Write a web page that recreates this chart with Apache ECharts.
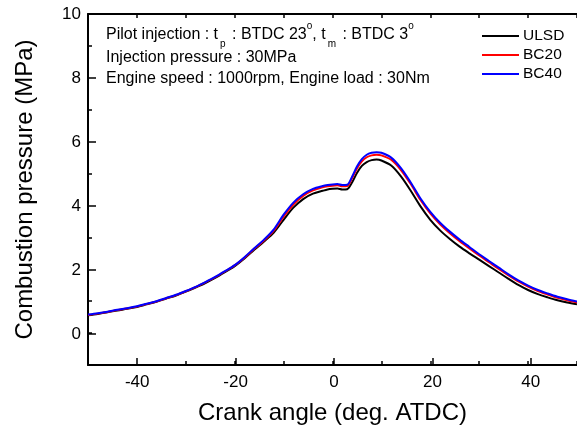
<!DOCTYPE html>
<html>
<head>
<meta charset="utf-8">
<script src="https://cdn.jsdelivr.net/npm/echarts@6/dist/echarts.min.js"></script>
<style>
  html, body { margin: 0; padding: 0; background: #fff; }
  #chart { width: 577px; height: 430px; }
</style>
</head>
<body>
<div id="chart"></div>
<script>
/* Combustion pressure vs crank angle — ULSD / BC20 / BC40 */
const crankAngle = [-50, -48, -46, -44, -42, -40, -38, -36, -34, -32, -30, -28, -26, -24, -22, -20,
  -18, -16, -14, -12, -10, -8, -6, -4,
  -2, -1, 0, 1, 2, 3, 4, 5, 6, 7, 8, 9, 10,
  12, 14, 16, 18, 20, 22, 24, 26, 28, 30, 32, 34, 36, 38, 40, 42, 44, 46, 48, 50];
const ulsd = [0.56, 0.60, 0.65, 0.71, 0.76, 0.82, 0.90, 0.98, 1.08, 1.18, 1.30, 1.43, 1.57, 1.73, 1.91, 2.10,
  2.34, 2.61, 2.87, 3.15, 3.55, 3.93, 4.20, 4.37,
  4.46, 4.50, 4.52, 4.53, 4.50, 4.51, 4.72, 5.02, 5.24, 5.36, 5.42, 5.44, 5.41,
  5.25, 4.91, 4.46, 3.97, 3.55, 3.22, 2.95, 2.71, 2.50, 2.30, 2.10, 1.90, 1.70, 1.51, 1.35, 1.22, 1.12, 1.03, 0.96, 0.90];
const bc20 = [0.57, 0.61, 0.66, 0.72, 0.77, 0.83, 0.91, 0.99, 1.09, 1.19, 1.31, 1.44, 1.59, 1.75, 1.93, 2.12,
  2.36, 2.64, 2.90, 3.21, 3.65, 4.03, 4.30, 4.47,
  4.57, 4.60, 4.62, 4.63, 4.60, 4.61, 4.85, 5.16, 5.38, 5.51, 5.57, 5.59, 5.57,
  5.43, 5.11, 4.67, 4.17, 3.75, 3.41, 3.13, 2.88, 2.65, 2.43, 2.22, 2.01, 1.81, 1.62, 1.46, 1.32, 1.21, 1.11, 1.03, 0.96];
const bc40 = [0.58, 0.62, 0.67, 0.73, 0.78, 0.84, 0.92, 1.00, 1.10, 1.20, 1.32, 1.45, 1.60, 1.76, 1.94, 2.13,
  2.38, 2.66, 2.93, 3.25, 3.71, 4.09, 4.35, 4.52,
  4.61, 4.64, 4.66, 4.67, 4.64, 4.65, 4.90, 5.22, 5.45, 5.59, 5.65, 5.67, 5.65,
  5.50, 5.17, 4.72, 4.22, 3.80, 3.46, 3.18, 2.93, 2.70, 2.47, 2.26, 2.05, 1.84, 1.65, 1.49, 1.35, 1.24, 1.14, 1.06, 0.99];
const seriesNames = ['ULSD', 'BC20', 'BC40'];
const seriesColors = ['#000000', '#ff0000', '#0000ff'];
const seriesValues = [ulsd, bc20, bc40];
const xRange = [-50, 50], xLabelRange = [-40, 40];
const yRange = [-1, 10], yLabelRange = [0, 10];

const FONT = 'Liberation Sans, Arial, sans-serif';
const chart = echarts.init(document.getElementById('chart'));

// main grid spans x -50..50 (right edge runs past the canvas), y -1..10
const G = { left: 88, top: 14, width: 492, height: 352 };
const pxX = G.width / (xRange[1] - xRange[0]);
const pxY = G.height / (yRange[1] - yRange[0]);

const axisLine = { onZero: false, lineStyle: { color: '#000', width: 2 } };
const minorTick = { inside: true, length: 4, lineStyle: { color: '#000', width: 1.5 } };
const majorTick = { inside: true, length: 8, lineStyle: { color: '#000', width: 1.5 } };

chart.setOption({
  animation: false,
  backgroundColor: '#fff',
  grid: [
    G,
    // labelled x ticks (-40..40 every 20)
    { left: G.left + (xLabelRange[0] - xRange[0]) * pxX, top: G.top,
      width: (xLabelRange[1] - xLabelRange[0]) * pxX, height: G.height },
    // labelled y ticks (0..10 every 2)
    { left: G.left, top: G.top + (yRange[1] - yLabelRange[1]) * pxY,
      width: G.width, height: (yLabelRange[1] - yLabelRange[0]) * pxY }
  ],
  xAxis: [
    { type: 'value', gridIndex: 0, min: xRange[0], max: xRange[1], interval: 10,
      name: 'Crank angle (deg. ATDC)', nameLocation: 'middle', nameGap: 36,
      nameTextStyle: { fontFamily: FONT, fontSize: 24, color: '#000' },
      axisLine, axisTick: minorTick, axisLabel: { show: false }, splitLine: { show: false } },
    { type: 'value', gridIndex: 0, position: 'top', min: xRange[0], max: xRange[1], interval: 10,
      axisLine, axisTick: minorTick, axisLabel: { show: false }, splitLine: { show: false } },
    { type: 'value', gridIndex: 1, min: xLabelRange[0], max: xLabelRange[1], interval: 20,
      axisLine: { show: false, onZero: false }, axisTick: majorTick,
      axisLabel: { margin: 8, fontFamily: FONT, fontSize: 17, color: '#000' },
      splitLine: { show: false } },
    { type: 'value', gridIndex: 2, show: false, min: 0, max: 1 }
  ],
  yAxis: [
    { type: 'value', gridIndex: 0, min: yRange[0], max: yRange[1], interval: 1,
      name: 'Combustion pressure (MPa)', nameLocation: 'middle', nameGap: 51,
      nameTextStyle: { fontFamily: FONT, fontSize: 24, color: '#000' },
      axisLine, axisTick: minorTick, axisLabel: { show: false }, splitLine: { show: false } },
    { type: 'value', gridIndex: 1, show: false, min: 0, max: 1 },
    { type: 'value', gridIndex: 2, min: yLabelRange[0], max: yLabelRange[1], interval: 2,
      axisLine: { show: false, onZero: false }, axisTick: majorTick,
      axisLabel: { margin: 7, fontFamily: FONT, fontSize: 17, color: '#000' },
      splitLine: { show: false } }
  ],
  legend: {
    orient: 'vertical', left: 482, top: 28, padding: 0,
    icon: 'rect', itemWidth: 37, itemHeight: 2, itemGap: 3,
    textStyle: { fontFamily: FONT, fontSize: 15.5, lineHeight: 16, color: '#000', padding: [0, 0, 0, -1] },
    data: seriesNames
  },
  graphic: [
    { type: 'text', left: 106, top: 21, style: {
        text: '{a|Pilot injection : t}{s|p}{a| : BTDC 23}{u|o}{a|, t}{s|m}{a| : BTDC 3}{u|o}',
        rich: {
          a: { fontFamily: FONT, fontSize: 16, lineHeight: 28, fill: '#000' },
          s: { fontFamily: FONT, fontSize: 10, lineHeight: 14, verticalAlign: 'bottom', fill: '#000', padding: [0, 2, 0, 2] },
          u: { fontFamily: FONT, fontSize: 10, lineHeight: 23, verticalAlign: 'top', fill: '#000' }
        } } },
    { type: 'text', left: 106, top: 50, style: {
        text: 'Injection pressure : 30MPa', fontFamily: FONT, fontSize: 16, fill: '#000' } },
    { type: 'text', left: 106, top: 71, style: {
        text: 'Engine speed : 1000rpm, Engine load : 30Nm', fontFamily: FONT, fontSize: 16, fill: '#000' } }
  ],
  series: seriesNames.map((name, k) => ({
    name, type: 'line', xAxisIndex: 0, yAxisIndex: 0,
    data: crankAngle.map((x, i) => [x, seriesValues[k][i]]),
    smooth: 0.3, symbol: 'none',
    lineStyle: { color: seriesColors[k], width: 2 },
    itemStyle: { color: seriesColors[k] },
    z: 2 + k
  }))
});
</script>
</body>
</html>
